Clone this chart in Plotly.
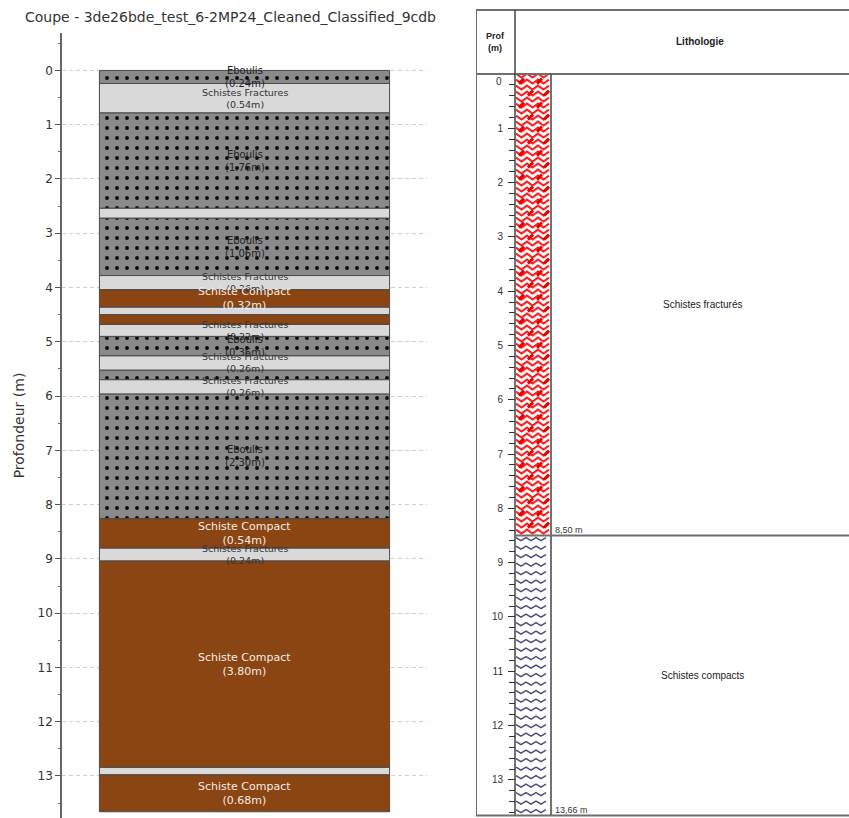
import numpy as np
import plotly.graph_objects as go

# ---------------- Coupe (panneau gauche) ----------------
lithologies = [
    "Eboulis", "Schistes Fractures", "Eboulis", "Schistes Fractures", "Eboulis",
    "Schistes Fractures", "Schiste Compact", "Schistes Fractures", "Schiste Compact",
    "Schistes Fractures", "Eboulis", "Schistes Fractures", "Eboulis", "Schistes Fractures",
    "Eboulis", "Schiste Compact", "Schistes Fractures", "Schiste Compact",
    "Schistes Fractures", "Schiste Compact",
]
epaisseurs = [0.24, 0.54, 1.76, 0.18, 1.06, 0.26, 0.32, 0.14, 0.18, 0.22,
              0.36, 0.26, 0.18, 0.26, 2.30, 0.54, 0.24, 3.80, 0.14, 0.68]
depth_ticks = list(range(0, 14))
titre = "Coupe - 3de26bde_test_6-2MP24_Cleaned_Classified_9cdb"

# ---------------- Log (panneau droit) ----------------
log_units = ["Schistes fracturés", "Schistes compacts"]
log_tops = [0.0, 8.50]
log_bases = [8.50, 13.66]
log_base_labels = ["8,50 m", "13,66 m"]

W, H = 849, 818


def py(y):
    """pixel row -> paper fraction"""
    return (H - y) / H


def px(x):
    return x / W


tops = np.concatenate([[0.0], np.cumsum(epaisseurs)[:-1]])

styles = {
    "Eboulis": dict(fill="#8a8a8a", pattern=dict(shape=".", fgcolor="#0a0a0a", bgcolor="#8a8a8a",
                                                  size=10, solidity=0.12, fillmode="replace"),
                    txt="#222222", fs=10),
    "Schistes Fractures": dict(fill="#d9d9d9", pattern=None, txt="#333333", fs=9.5),
    "Schiste Compact": dict(fill="#8b4513", pattern=None, txt="#f4ece4", fs=11),
}

fig = go.Figure()

for name, st in styles.items():
    idx = [i for i, l in enumerate(lithologies) if l == name]
    marker = dict(color=st["fill"], line=dict(color="#4a4a4a", width=1))
    if st["pattern"]:
        marker["pattern"] = st["pattern"]
    fig.add_trace(go.Bar(
        x=[0] * len(idx), y=[epaisseurs[i] for i in idx], base=[tops[i] for i in idx],
        width=0.795, marker=marker, name=name, showlegend=False,
        hoverinfo="skip", xaxis="x", yaxis="y",
    ))

annotations = []
for lith, t, e in zip(lithologies, tops, epaisseurs):
    if e < 0.2:
        continue
    st = styles[lith]
    annotations.append(dict(
        x=0, y=t + e / 2, xref="x", yref="y", showarrow=False,
        xanchor="center", yanchor="middle",
        text=f"{lith}<br>({e:.2f}m)",
        font=dict(family="DejaVu Sans", size=st["fs"], color=st["txt"]),
    ))

# ---- Hachures du log ----
STRIP_L, STRIP_R = 515, 551
M_PER_PX = 1 / 54.3


def zigzag_rows(top, bottom, row_px, period_px, amp_px, phase=0.0):
    xs, ys = [], []
    d = top + row_px * M_PER_PX * 0.6
    while d < bottom - 0.03:
        x = STRIP_L + 1 + phase
        up = True
        while x <= STRIP_R - 1:
            xs.append(x)
            ys.append(d - (amp_px * M_PER_PX if up else 0))
            up = not up
            x += period_px / 2
        xs.append(None)
        ys.append(None)
        d += row_px * M_PER_PX
    return xs, ys


def strokes(top, bottom, row_px, cols, len_px):
    xs, ys = [], []
    d = top + row_px * M_PER_PX * 0.8
    k = 0
    while d < bottom - 0.05:
        for c in cols[k % 2]:
            xs += [c, c + len_px, None]
            ys += [d, d - len_px * M_PER_PX, None]
        d += row_px * M_PER_PX
        k += 1
    return xs, ys


# Schistes fracturés : chevrons rouges
rx, ry = zigzag_rows(log_tops[0], log_bases[0], 6, 11, 4)
fig.add_trace(go.Scatter(x=rx, y=ry, mode="lines", line=dict(color="#ff2020", width=2),
                         xaxis="x2", yaxis="y2", hoverinfo="skip", showlegend=False))
sx, sy = strokes(log_tops[0], log_bases[0], 12, [[519, 537], [528, 544]], 5)
fig.add_trace(go.Scatter(x=sx, y=sy, mode="lines", line=dict(color="#e60000", width=3),
                         xaxis="x2", yaxis="y2", hoverinfo="skip", showlegend=False))
# Schistes compacts : ondulations grises
bx, by = zigzag_rows(log_tops[1], log_bases[1], 8.5, 10, 3)
fig.add_trace(go.Scatter(x=bx, y=by, mode="lines", line=dict(color="#4e4e78", width=1.5),
                         xaxis="x2", yaxis="y2", hoverinfo="skip", showlegend=False))

shapes = []
line_c = "#6e6e6e"
# cadre du tableau
shapes += [
    dict(type="line", xref="x2", yref="paper", x0=476, x1=W + 5, y0=py(10), y1=py(10), line=dict(color=line_c, width=2)),
    dict(type="line", xref="x2", yref="paper", x0=476, x1=W + 5, y0=py(74), y1=py(74), line=dict(color=line_c, width=2)),
    dict(type="line", xref="x2", yref="paper", x0=476, x1=476, y0=py(10), y1=py(816), line=dict(color=line_c, width=2)),
    dict(type="line", xref="x2", yref="paper", x0=STRIP_L, x1=STRIP_L, y0=py(10), y1=py(816), line=dict(color="#444444", width=1.5)),
    dict(type="line", xref="x2", yref="y2", x0=STRIP_R, x1=STRIP_R, y0=log_tops[0], y1=log_bases[-1], line=dict(color="#444444", width=1.5)),
]
for b in log_bases[:-1]:
    shapes.append(dict(type="line", xref="x2", yref="y2", x0=STRIP_L, x1=W + 5, y0=b, y1=b,
                       line=dict(color=line_c, width=2)))
shapes.append(dict(type="line", xref="x2", yref="paper", x0=476, x1=W + 5, y0=py(815.5), y1=py(815.5),
                   line=dict(color=line_c, width=2)))

annotations += [
    dict(x=495.5, y=py(42), xref="x2", yref="paper", showarrow=False, text="<b>Prof<br>(m)</b>",
         xanchor="center", yanchor="middle",
         font=dict(family="Liberation Sans", size=9, color="#222222")),
    dict(x=700, y=py(42), xref="x2", yref="paper", showarrow=False, text="<b>Lithologie</b>",
         xanchor="center", yanchor="middle",
         font=dict(family="Liberation Sans", size=10, color="#222222")),
    # le 0 est décalé sous la ligne d'en-tête
    dict(x=STRIP_L - 11, y=py(81), xref="x2", yref="paper", showarrow=False, text="0",
         xanchor="right", yanchor="middle",
         font=dict(family="Liberation Sans", size=10, color="#333333")),
]
for u, t, b, lab in zip(log_units, log_tops, log_bases, log_base_labels):
    annotations.append(dict(x=702, y=(t + b) / 2, xref="x2", yref="y2", showarrow=False, text=u,
                            xanchor="center", yanchor="middle",
                            font=dict(family="Liberation Sans", size=10, color="#222222")))
    annotations.append(dict(x=STRIP_R + 2, y=b, xref="x2", yref="y2", showarrow=False, text=lab,
                            xanchor="left", yanchor="bottom", yshift=-1,
                            font=dict(family="Liberation Sans", size=9, color="#333333")))

fig.update_layout(
    width=W, height=H,
    margin=dict(l=0, r=0, t=0, b=0),
    paper_bgcolor="white", plot_bgcolor="rgba(0,0,0,0)",
    barmode="overlay",
    title=dict(text=titre, x=px(25), xanchor="left", y=py(17), yanchor="middle", yref="container",
               font=dict(family="DejaVu Sans", size=14, color="#333333")),
    xaxis=dict(domain=[px(62), px(427)], range=[-0.5, 0.5], visible=False),
    yaxis=dict(
        domain=[0, py(33)], range=[13.775, -0.69], anchor="x",
        tickvals=depth_ticks, ticks="outside", ticklen=5, tickcolor="#555555", tickwidth=1,
        showline=True, linecolor="#666666", linewidth=1.5,
        showgrid=True, gridcolor="#cfcfcf", griddash="4px,3px", gridwidth=1, zeroline=False,
        minor=dict(dtick=0.5, ticks="outside", ticklen=2.5, tickcolor="#666666", showgrid=False),
        tickfont=dict(family="DejaVu Sans", size=12, color="#333333"),
        title=dict(text="Profondeur (m)", standoff=10,
                   font=dict(family="DejaVu Sans", size=14, color="#333333")),
    ),
    xaxis2=dict(domain=[px(476), 1], range=[476, W], visible=False, anchor="y2"),
    yaxis2=dict(
        domain=[py(815.7), py(74)], range=[log_bases[-1], log_tops[0]], anchor="free", position=px(STRIP_L),
        side="left", tickvals=depth_ticks, ticktext=[""] + [str(v) for v in depth_ticks[1:]],
        ticks="outside", ticklen=7, tickcolor="#333333", tickwidth=1.3, ticklabelstandoff=3,
        showline=False, showgrid=False, zeroline=False,
        minor=dict(dtick=0.2, ticks="outside", ticklen=6, tickcolor="#333333", tickwidth=1, showgrid=False),
        tickfont=dict(family="Liberation Sans", size=10, color="#333333"),
    ),
    shapes=shapes,
    annotations=annotations,
)

fig.write_html("out.html")
